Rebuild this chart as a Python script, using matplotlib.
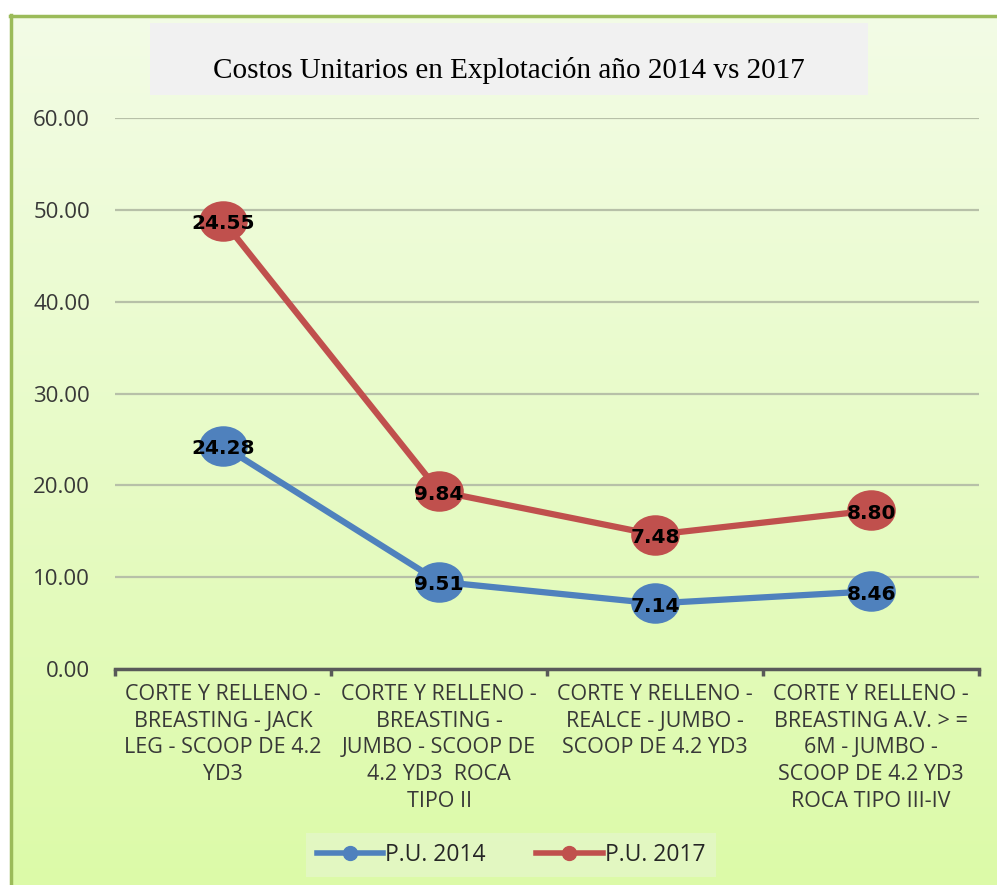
import numpy as np
import matplotlib
matplotlib.use("Agg")
import matplotlib.pyplot as plt
from matplotlib.path import Path
from matplotlib.lines import Line2D
from matplotlib.patches import Rectangle

# data
categorias = [
    "CORTE Y RELLENO -\nBREASTING - JACK\nLEG - SCOOP DE 4.2\nYD3",
    "CORTE Y RELLENO -\nBREASTING -\nJUMBO - SCOOP DE\n4.2 YD3  ROCA\nTIPO II",
    "CORTE Y RELLENO -\nREALCE - JUMBO -\nSCOOP DE 4.2 YD3",
    "CORTE Y RELLENO -\nBREASTING A.V. > =\n6M - JUMBO -\nSCOOP DE 4.2 YD3\nROCA TIPO III-IV",
]
pu_2014 = [24.28, 9.51, 7.14, 8.46]
pu_2017 = [24.55, 9.84, 7.48, 8.80]
series = ["P.U. 2014", "P.U. 2017"]
y_ticks = [0, 10, 20, 30, 40, 50, 60]
titulo = "Costos Unitarios en Explotación año 2014 vs 2017"

azul = "#4F81BD"
rojo = "#C0504D"
W, H = 997, 885

fig = plt.figure(figsize=(W / 100, H / 100), dpi=100)
fig.patch.set_facecolor("white")

# background gradient inside the green frame
bg = fig.add_axes([10 / W, 0, 1 - 10 / W, 1 - 15 / H], zorder=0)
top = np.array([0xF3, 0xFC, 0xE6]) / 255
bot = np.array([0xDC, 0xFA, 0xA8]) / 255
t = np.linspace(0, 1, 256)[:, None]
grad = top * (1 - t) + bot * t
bg.imshow(grad[:, None, :], aspect="auto", extent=[0, 1, 0, 1])
bg.set_xlim(0, 1)
bg.set_ylim(0, 1)
bg.axis("off")
bg.plot([0.0015, 0.0015], [0, 1], color="#9BBB59", lw=2.5, clip_on=False)
bg.plot([0, 1], [0.999, 0.999], color="#9BBB59", lw=2.5, clip_on=False)

# title box
fig.patches.append(Rectangle((150 / W, 1 - 95 / H), 718 / W, 72 / H,
                             transform=fig.transFigure, facecolor="#F1F1F1",
                             edgecolor="none", zorder=1))
fig.text(509 / W, 1 - 70 / H, titulo, ha="center", va="center",
         fontsize=21, family="Liberation Serif", color="black", zorder=2)

ax = fig.add_axes([115 / W, 1 - 669 / H, 864 / W, 551 / H], zorder=2)
ax.patch.set_alpha(0)

x = np.arange(len(categorias))
acum = np.array(pu_2014) + np.array(pu_2017)

# elliptical marker
circ = Path.unit_circle()
elipse = Path(circ.vertices * np.array([1.2, 1.0]), circ.codes)

ax.plot(x, pu_2014, color=azul, lw=4.5, marker=elipse, markersize=35,
        markeredgewidth=0, zorder=3)
ax.plot(x, acum, color=rojo, lw=4.5, marker=elipse, markersize=35,
        markeredgewidth=0, zorder=3)

for xi, yi, v in zip(x, pu_2014, pu_2014):
    ax.text(xi, yi - 0.3, f"{v:.2f}", ha="center", va="center", fontsize=14.5,
            fontweight="bold", family="DejaVu Sans", color="black", zorder=4)
for xi, yi, v in zip(x, acum, pu_2017):
    ax.text(xi, yi - 0.3, f"{v:.2f}", ha="center", va="center", fontsize=14.5,
            fontweight="bold", family="DejaVu Sans", color="black", zorder=4)

ax.set_xlim(-0.5, len(categorias) - 0.5)
ax.set_ylim(0, 60)
ax.set_yticks(y_ticks)
ax.set_yticklabels([f"{v:.2f}" for v in y_ticks], fontsize=16,
                   family="Open Sans", color="#383838")
ax.tick_params(axis="y", length=0, pad=18)
ax.yaxis.grid(True, color="#B7C0A8", lw=1.6)
ax.set_axisbelow(True)

ax.set_xticks(x)
ax.set_xticklabels(categorias, fontsize=15.5, family="Open Sans",
                   color="#383838", linespacing=1.35)
ax.tick_params(axis="x", which="major", length=0, pad=11)
ax.set_xticks(np.arange(-0.5, len(categorias)), minor=True)
ax.tick_params(axis="x", which="minor", length=5, width=2.5,
               color="#595959", direction="out")

for s in ["top", "right", "left"]:
    ax.spines[s].set_visible(False)
ax.spines["bottom"].set_color("#595959")
ax.spines["bottom"].set_linewidth(2.5)

# legend
handles = [Line2D([], [], color=azul, lw=4, marker="o", markersize=10),
           Line2D([], [], color=rojo, lw=4, marker="o", markersize=10)]
leg = fig.legend(handles, series, loc="center", bbox_to_anchor=(511 / W, 1 - 855 / H),
                 ncol=2, frameon=True, fancybox=False, handlelength=2.9,
                 handletextpad=0.1, columnspacing=2.2, borderpad=0.45,
                 prop={"family": "Open Sans", "size": 16.5})
leg.get_frame().set_facecolor("#E4F7C8")
leg.get_frame().set_edgecolor("none")
for txt in leg.get_texts():
    txt.set_color("#262626")

fig.savefig("out.png", dpi=100)
